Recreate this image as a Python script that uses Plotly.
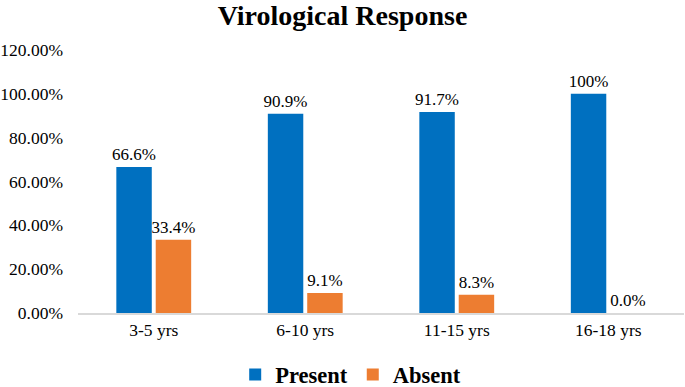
import plotly.graph_objects as go

categories = ["3-5 yrs", "6-10 yrs", "11-15 yrs", "16-18 yrs"]
present = [0.666, 0.909, 0.917, 1.0]
absent = [0.334, 0.091, 0.083, 0.0]
present_labels = ["66.6%", "90.9%", "91.7%", "100%"]
absent_labels = ["33.4%", "9.1%", "8.3%", "0.0%"]
y_ticks = [0, 0.2, 0.4, 0.6, 0.8, 1.0, 1.2]

FONT = "Liberation Serif"

fig = go.Figure()
fig.add_trace(go.Bar(
    x=categories, y=present, name="Present",
    marker=dict(color="#0070C0", line=dict(width=0)),
    text=present_labels, textposition="outside", constraintext="none",
    textfont=dict(family=FONT, size=17, color="black"),
    cliponaxis=False,
))
fig.add_trace(go.Bar(
    x=categories, y=absent, name="Absent",
    marker=dict(color="#ED7D31", line=dict(width=0)),
    text=absent_labels, textposition="outside", constraintext="none",
    textfont=dict(family=FONT, size=17, color="black"),
    cliponaxis=False,
))

fig.update_layout(
    width=685, height=387,
    margin=dict(l=78, r=1, t=50, b=74, autoexpand=False),
    paper_bgcolor="white", plot_bgcolor="white",
    barmode="group", bargap=0.48, bargroupgap=0.1,
    title=dict(text="<b>Virological Response</b>", x=0.5, xanchor="center",
               y=1.0, yanchor="top", pad=dict(t=5),
               font=dict(family=FONT, size=28, color="black")),
    font=dict(family=FONT, size=17.5, color="black"),
    legend=dict(orientation="h", x=0.45, xanchor="center", y=-0.235, yanchor="middle",
                font=dict(family=FONT, size=22.5, color="black", weight="bold"),
                itemwidth=30, traceorder="normal"),
    showlegend=True,
)
fig.update_xaxes(showline=True, linecolor="#D9D9D9", linewidth=1.5, ticks="",
                 tickfont=dict(family=FONT, size=17.5, color="black"), showgrid=False,
                 automargin=False)
fig.update_yaxes(range=[0, 1.2], tickvals=y_ticks, tickformat=".2%", showgrid=False,
                 zeroline=False, showline=False, ticks="", ticklabelstandoff=14,
                 automargin=False,
                 tickfont=dict(family=FONT, size=17.5, color="black"))

fig.write_html("out.html", config={"displayModeBar": False},
               post_script="document.body.style.margin='0';")
